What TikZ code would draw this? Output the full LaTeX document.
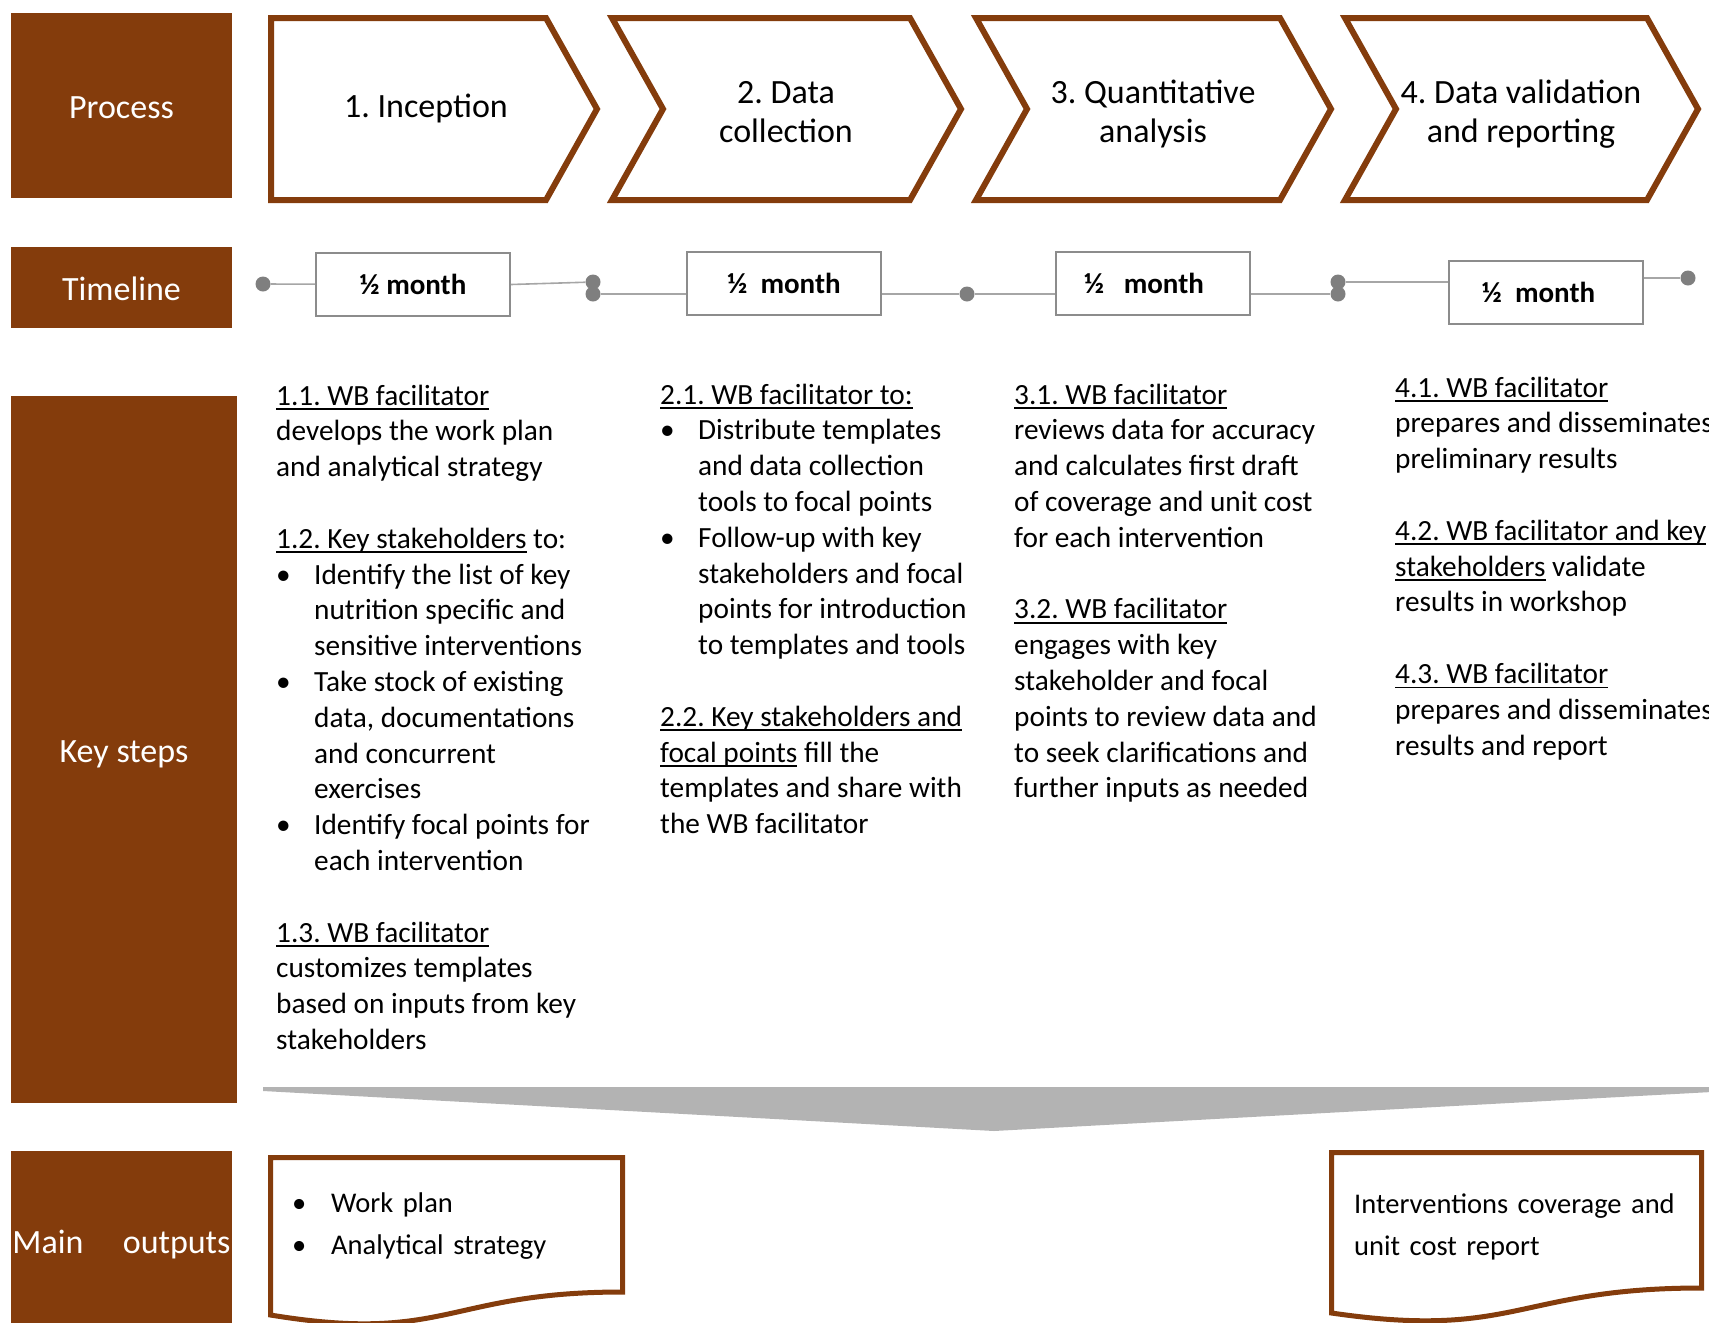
\documentclass[tikz,border=0pt]{standalone}
\usepackage{fontspec}
\setmainfont{Carlito}
\usepackage{xcolor}
\usetikzlibrary{positioning, calc}

\definecolor{rowbrown}{HTML}{843C0C}
\definecolor{dotgray}{HTML}{7F7F7F}
\definecolor{linegray}{HTML}{A6A6A6}
\definecolor{boxgray}{HTML}{8C8C8C}
\definecolor{funnelgray}{HTML}{B3B3B3}

% underline at a fixed depth, bullet and hanging indent for the step lists
\newcommand{\stepul}[1]{\leavevmode\setbox0\hbox{#1}\rlap{\rule[-5pt]{\wd0}{1.8pt}}\box0\relax}
\newcommand{\stepbullet}{\leavevmode\makebox[38pt][l]{\textbullet}}
\newcommand{\stephang}{\leavevmode\hspace*{38pt}}

\begin{document}
\frenchspacing
\begin{tikzpicture}[
  x=1pt, y=-1pt,
  rowlabel/.style={fill=rowbrown, text=white, inner sep=0pt, text height=25.5pt, text depth=0pt, font=\fontsize{34}{40}\selectfont},
  chev/.style={draw=rowbrown, fill=white, line width=6pt, miter limit=10},
  chevtext/.style={align=center, inner sep=0pt, font=\fontsize{34}{39.5}\selectfont},
  month/.style={draw=boxgray, line width=2pt, fill=white, minimum width=194pt, minimum height=63pt, font=\fontsize{29}{34}\selectfont\bfseries},
  tdot/.style={circle, fill=dotgray, minimum size=15pt, inner sep=0pt},
  tline/.style={draw=linegray, line width=1.6pt},
  steptext/.style={text width=380pt, align=flush left, inner sep=0pt, font=\fontsize{29.3}{35.8}\selectfont},
  outdoc/.style={draw=rowbrown, fill=white, line width=5pt},
  outtext/.style={text width=340pt, align=left, inner sep=0pt, font=\fontsize{28.5}{42}\selectfont},
]
\useasboundingbox (0,0) rectangle (1709,1323);

% === ROW LABELS ===
\node[rowlabel, minimum width=221pt, minimum height=185pt] (lbl_process) at (121.5,105.5) {Process};
\node[rowlabel, minimum width=221pt, minimum height=81pt] (lbl_timeline) at (121.5,287.5) {Timeline};
\node[rowlabel, minimum width=226pt, minimum height=707pt] (lbl_steps) at (124,749.5) {Key steps};
\node[rowlabel, minimum width=221pt, minimum height=180pt] (lbl_outputs) at (121.5,1241) {\makebox[218pt]{Main\hfill outputs}};

% === PROCESS ===
\draw[chev] (271,18) -- (546,18) -- (597,109) -- (546,200) -- (271,200) -- cycle;
\draw[chev] (612,18) -- (910,18) -- (961,109) -- (910,200) -- (612,200) -- (663,109) -- cycle;
\draw[chev] (976,18) -- (1280,18) -- (1331,109) -- (1280,200) -- (976,200) -- (1027,109) -- cycle;
\draw[chev] (1345,18) -- (1647,18) -- (1698,109) -- (1647,200) -- (1345,200) -- (1396,109) -- cycle;

\node[chevtext] (ch1) at (426,108) {1. Inception};
\node[chevtext] (ch2) at (786,112) {2. Data\\collection};
\node[chevtext] (ch3) at (1153,114) {3. Quantitative\\analysis};
\node[chevtext] (ch4) at (1521,114) {4. Data validation\\and reporting};

% === TIMELINE ===
\node[month] (m1) at (413,284.5) {½ month};
\node[month] (m2) at (784,283.5) {½\ \ month};
\node[month] (m3) at (1153,283.5) {\hspace*{-18pt}½\ \ \ month};
\node[month] (m4) at (1545.5,292) {\hspace*{-14pt}½\ \ month};

\node[tdot] (t0) at (263,284) {};
\node[tdot] (t1a) at (593,282) {};
\node[tdot] (t1b) at (593,294) {};
\node[tdot] (t2) at (967,294) {};
\node[tdot] (t3a) at (1338,282) {};
\node[tdot] (t3b) at (1338,294) {};
\node[tdot] (t4) at (1688,278) {};

\draw[tline] (t0) -- (m1);
\draw[tline] (m1.east) -- (t1a);
\draw[tline] (t1b) -- (t1b -| m2.west);
\draw[tline] (t2 -| m2.east) -- (t2);
\draw[tline] (t2) -- (t2 -| m3.west);
\draw[tline] (t3b -| m3.east) -- (t3b);
\draw[tline] (t3a) -- (t3a -| m4.west);
\draw[tline] (t4 -| m4.east) -- (t4);

% === KEY STEPS ===
\node[steptext, anchor=base west] (steps1) at (276,405) {%
\stepul{1.1. WB facilitator}\\
develops the work plan\\
and analytical strategy\\[35.8pt]
\stepul{1.2. Key stakeholders} to:\\
\stepbullet Identify the list of key\\
\stephang nutrition specific and\\
\stephang sensitive interventions\\
\stepbullet Take stock of existing\\
\stephang data, documentations\\
\stephang and concurrent\\
\stephang exercises\\
\stepbullet Identify focal points for\\
\stephang each intervention\\[35.8pt]
\stepul{1.3. WB facilitator}\\
customizes templates\\
based on inputs from key\\
stakeholders};

\node[steptext, anchor=base west] (steps2) at (660,404) {%
\stepul{2.1. WB facilitator to:}\\
\stepbullet Distribute templates\\
\stephang and data collection\\
\stephang tools to focal points\\
\stepbullet Follow-up with key\\
\stephang stakeholders and focal\\
\stephang points for introduction\\
\stephang to templates and tools\\[35.8pt]
\stepul{2.2. Key stakeholders and}\\
\stepul{focal points} fill the\\
templates and share with\\
the WB facilitator};

\node[steptext, anchor=base west] (steps3) at (1014,404) {%
\stepul{3.1. WB facilitator}\\
reviews data for accuracy\\
and calculates first draft\\
of coverage and unit cost\\
for each intervention\\[35.8pt]
\stepul{3.2. WB facilitator}\\
engages with key\\
stakeholder and focal\\
points to review data and\\
to seek clarifications and\\
further inputs as needed};

\node[steptext, anchor=base west] (steps4) at (1395,397) {%
\stepul{4.1. WB facilitator}\\
prepares and disseminates\\
preliminary results\\[35.8pt]
\stepul{4.2. WB facilitator and key}\\
\stepul{stakeholders} validate\\
results in workshop\\[35.8pt]
\stepul{4.3. WB facilitator}\\
prepares and disseminates\\
results and report};

% funnel down to the outputs
\fill[funnelgray] (263,1087) -- (1730,1087) -- (1730,1091) -- (994,1131) -- (263,1091) -- cycle;

% === MAIN OUTPUTS ===
\draw[outdoc] (270.5,1157.5) -- (622.5,1157.5) -- (622.5,1292)
  .. controls (446.5,1292) and (446.5,1344) .. (270.5,1315) -- cycle;
\draw[outdoc] (1331.5,1152.5) -- (1701.5,1152.5) -- (1701.5,1288)
  .. controls (1516.5,1288) and (1516.5,1340) .. (1331.5,1313) -- cycle;

\node[outtext, anchor=base west] (out1) at (292,1212) {%
\makebox[39pt][l]{\textbullet}Work plan\\
\makebox[39pt][l]{\textbullet}Analytical strategy};
\node[outtext, anchor=base west] (out2) at (1354,1213) {%
Interventions coverage and\\
unit cost report};

\end{tikzpicture}
\end{document}
